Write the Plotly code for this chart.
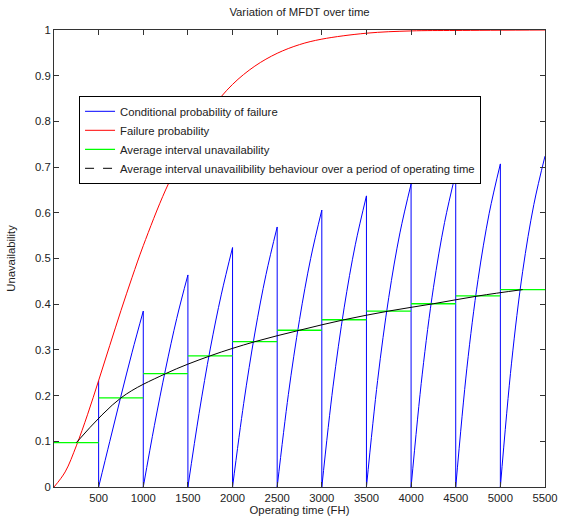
import plotly.graph_objects as go

# ---- data ----
# Failure probability (red)
fp_t = [0, 125, 250, 375, 500, 625, 750, 875, 1000, 1250, 1500, 1750, 2000,
        2250, 2500, 2750, 3000, 3500, 4000, 4500, 5500]
fp_v = [0, 0.033, 0.090, 0.158, 0.233, 0.310, 0.386, 0.459, 0.528, 0.650, 0.748,
        0.824, 0.881, 0.921, 0.949, 0.968, 0.980, 0.993, 0.998, 0.999, 1.0]

# Conditional probability of failure (blue), one list per inspection interval
interval_starts = [0, 500, 1000, 1500, 2000, 2500, 3000, 3500, 4000, 4500, 5000]
interval_len = 500
offsets = [0, 125, 250, 375, 500]
cp_segments = [
    [0, 0.033, 0.090, 0.158, 0.233],
    [0, 0.100, 0.199, 0.295, 0.385],
    [0, 0.135, 0.258, 0.369, 0.464],
    [0, 0.161, 0.302, 0.422, 0.524],
    [0, 0.183, 0.337, 0.465, 0.569],
    [0, 0.202, 0.366, 0.500, 0.606],
    [0, 0.219, 0.392, 0.530, 0.637],
    [0, 0.233, 0.415, 0.556, 0.663],
    [0, 0.247, 0.436, 0.579, 0.687],
    [0, 0.260, 0.454, 0.599, 0.707],
    [0, 0.271, 0.472, 0.618, 0.724],
]

# Average interval unavailability (green)
avg_unav = [0.097, 0.195, 0.248, 0.287, 0.318, 0.343, 0.366, 0.385, 0.401, 0.418, 0.432]

x_ticks = [500, 1000, 1500, 2000, 2500, 3000, 3500, 4000, 4500, 5000, 5500]
y_ticks = [0, 0.1, 0.2, 0.3, 0.4, 0.5, 0.6, 0.7, 0.8, 0.9, 1]
y_tick_labels = ["0", "0.1", "0.2", "0.3", "0.4", "0.5", "0.6", "0.7", "0.8", "0.9", "1"]

# ---- build traces ----
bx, by = [], []
for i, (s, seg) in enumerate(zip(interval_starts, cp_segments)):
    if i > 0:  # first interval coincides with the failure probability curve (drawn in red)
        bx += [s + o for o in offsets] + [None]
        by += seg + [None]
    end = s + interval_len
    if end < 5500:
        bx += [end, end, None]
        by += [seg[-1], 0, None]

gx, gy = [], []
for s, v in zip(interval_starts, avg_unav):
    gx += [s, s + interval_len, None]
    gy += [v, v, None]

mid_t = [s + interval_len / 2 for s in interval_starts]

FONT = "Liberation Sans, Arial, Helvetica, sans-serif"
FS = 11.3
TXT = "#222222"

fig = go.Figure()
fig.add_trace(go.Scatter(x=bx, y=by, mode="lines", line=dict(color="#0000ff", width=1, shape="spline"),
                         name="Conditional probability of failure", connectgaps=False))
fig.add_trace(go.Scatter(x=fp_t, y=fp_v, mode="lines", line=dict(color="#ff0000", width=1, shape="spline"),
                         name="Failure probability"))
fig.add_trace(go.Scatter(x=gx, y=gy, mode="lines", line=dict(color="#00ff00", width=1.3),
                         name="Average interval unavailability", connectgaps=False))
fig.add_trace(go.Scatter(x=mid_t, y=avg_unav, mode="lines", line=dict(color="black", width=1, shape="spline"),
                         showlegend=False))
fig.add_trace(go.Scatter(x=[None], y=[None], mode="lines", line=dict(color="black", width=1, dash="dash"),
                         name="Average interval unavailibility behaviour over a period of operating time"))

axis_common = dict(showline=True, linecolor="#333333", linewidth=1, mirror="ticks",
                   ticks="inside", ticklen=5, tickcolor="#333333", showgrid=False, zeroline=False,
                   tickfont=dict(family=FONT, size=FS, color=TXT), automargin=False)

fig.update_layout(
    width=564, height=521,
    margin=dict(l=54, r=19, t=30, b=34),
    paper_bgcolor="white", plot_bgcolor="white",
    font=dict(family=FONT, size=FS, color=TXT),
    title=dict(text="Variation of MFDT over time", x=0.5, xref="paper", xanchor="center",
               y=1 - 12 / 521, yanchor="middle", font=dict(family=FONT, size=FS, color=TXT)),
    xaxis=dict(range=[0, 5500], tickvals=x_ticks,
               title=dict(text="Operating time (FH)", standoff=3, font=dict(family=FONT, size=FS, color=TXT)),
               **axis_common),
    yaxis=dict(range=[0, 1], tickvals=y_ticks, ticktext=y_tick_labels,
               title=dict(text="Unavailability", standoff=17, font=dict(family=FONT, size=FS, color=TXT)),
               **axis_common),
    legend=dict(x=0.051, y=0.856, xanchor="left", yanchor="top", bgcolor="white",
                bordercolor="black", borderwidth=1, itemwidth=30,
                font=dict(family=FONT, size=FS, color=TXT)),
    showlegend=True,
)

fig.write_html("out.html")
